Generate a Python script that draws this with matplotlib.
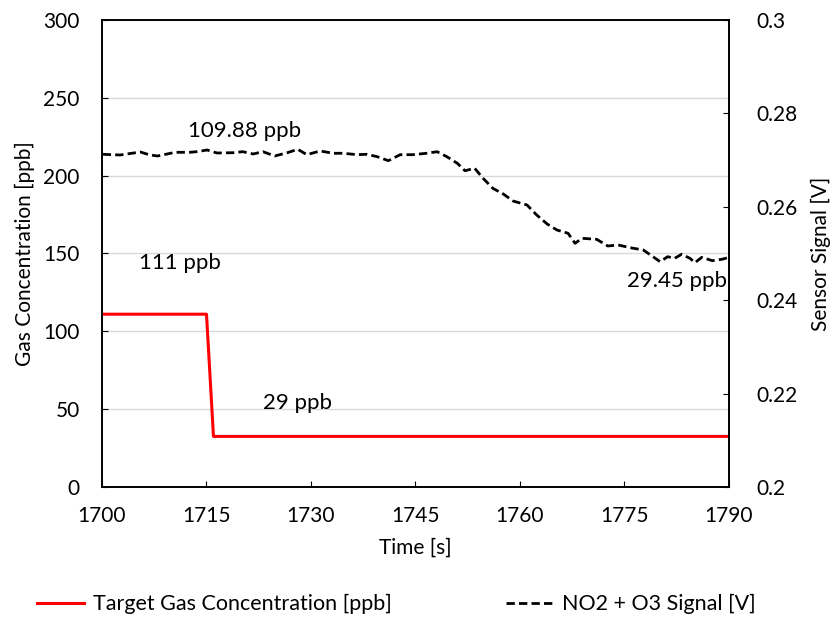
import numpy as np
import matplotlib.pyplot as plt

plt.rcParams['font.family'] = ['Lato', 'DejaVu Sans']

# target gas concentration [ppb]
t_target = [1700, 1715, 1716, 1790]
c_target = [111, 111, 32.5, 32.5]

# sensor signal [V]
t_signal = [1700.1, 1702.6, 1705.5, 1706.9, 1708.0, 1710.5, 1712.6, 1713.6, 1715.1, 1716.5,
            1718.8, 1720.2, 1721.7, 1723.1, 1724.8, 1726.6, 1728.1, 1729.4, 1731.3, 1733.2,
            1734.6, 1736.6, 1738.0, 1739.5, 1741.1, 1742.8, 1744.6, 1746.6, 1748.1, 1749.5,
            1751.0, 1752.1, 1753.5, 1754.7, 1756.1, 1757.6, 1759.0, 1761.0, 1762.4, 1763.9,
            1765.3, 1766.9, 1767.9, 1768.9, 1771.0, 1772.6, 1774.1, 1775.8, 1777.7, 1779.1,
            1780.1, 1781.2, 1782.2, 1783.2, 1784.4, 1785.1, 1786.1, 1787.6, 1789.0, 1790.0]
v_signal = [0.27124, 0.27109, 0.27173, 0.27109, 0.27088, 0.27167, 0.27167, 0.27180, 0.27216, 0.27152,
            0.27158, 0.27180, 0.27131, 0.27180, 0.27088, 0.27158, 0.27231, 0.27116, 0.27195, 0.27146,
            0.27146, 0.27116, 0.27124, 0.27073, 0.26987, 0.27116, 0.27116, 0.27146, 0.27180, 0.27073,
            0.26932, 0.26773, 0.26824, 0.26610, 0.26396, 0.26274, 0.26124, 0.26039, 0.25824, 0.25632,
            0.25503, 0.25433, 0.25218, 0.25325, 0.25304, 0.25161, 0.25182, 0.25124, 0.25075, 0.24931,
            0.24824, 0.24931, 0.24897, 0.24983, 0.24897, 0.24803, 0.24918, 0.24846, 0.24876, 0.24918]

fig = plt.figure(figsize=(8.34, 6.21), dpi=100)
ax = fig.add_axes([0.1223, 0.2158, 0.7518, 0.752])
ax2 = ax.twinx()

l1, = ax.plot(t_target, c_target, color='#ff0000', lw=2.2, label='Target Gas Concentration [ppb]')
l2, = ax2.plot(t_signal, v_signal, color='black', lw=2, ls=(0, (3, 1.5)), label='NO2 + O3 Signal [V]')

ax.set_xlim(1700, 1790)
ax.set_ylim(0, 300)
ax2.set_ylim(0.2, 0.3)
ax.set_xticks(np.arange(1700, 1791, 15))
ax.set_yticks(np.arange(0, 301, 50))
ax2.set_yticks([0.2, 0.22, 0.24, 0.26, 0.28, 0.3])
ax2.set_yticklabels(['0.2', '0.22', '0.24', '0.26', '0.28', '0.3'])

ax.grid(axis='y', color='#d9d9d9', lw=1)
ax.set_axisbelow(True)
for a in (ax, ax2):
    a.tick_params(direction='in', length=4, labelsize=15, color='black')
    for s in a.spines.values():
        s.set_linewidth(1.2)
ax.tick_params(axis='x', pad=14)
ax.tick_params(axis='y', pad=16)
ax2.tick_params(axis='y', pad=20)

ax.set_xlabel('Time [s]', fontsize=15, labelpad=8)
ax.set_ylabel('Gas Concentration [ppb]', fontsize=15, labelpad=6)
ax2.set_ylabel('Sensor Signal [V]', fontsize=15, labelpad=9)

ax.text(1720.5, 229, '109.88 ppb', fontsize=16, ha='center', va='center')
ax.text(1711.2, 144, '111 ppb', fontsize=16, ha='center', va='center')
ax.text(1728.1, 54, '29 ppb', fontsize=16, ha='center', va='center')
ax.text(1782.5, 132.3, '29.45 ppb', fontsize=16, ha='center', va='center')

fig.legend(handles=[l1, l2], loc='center left', bbox_to_anchor=(0.021, 0.027), ncol=2,
           frameon=False, fontsize=15.5, columnspacing=5.3, handlelength=2.2, handletextpad=0.4)

fig.savefig('out.png', dpi=100)
